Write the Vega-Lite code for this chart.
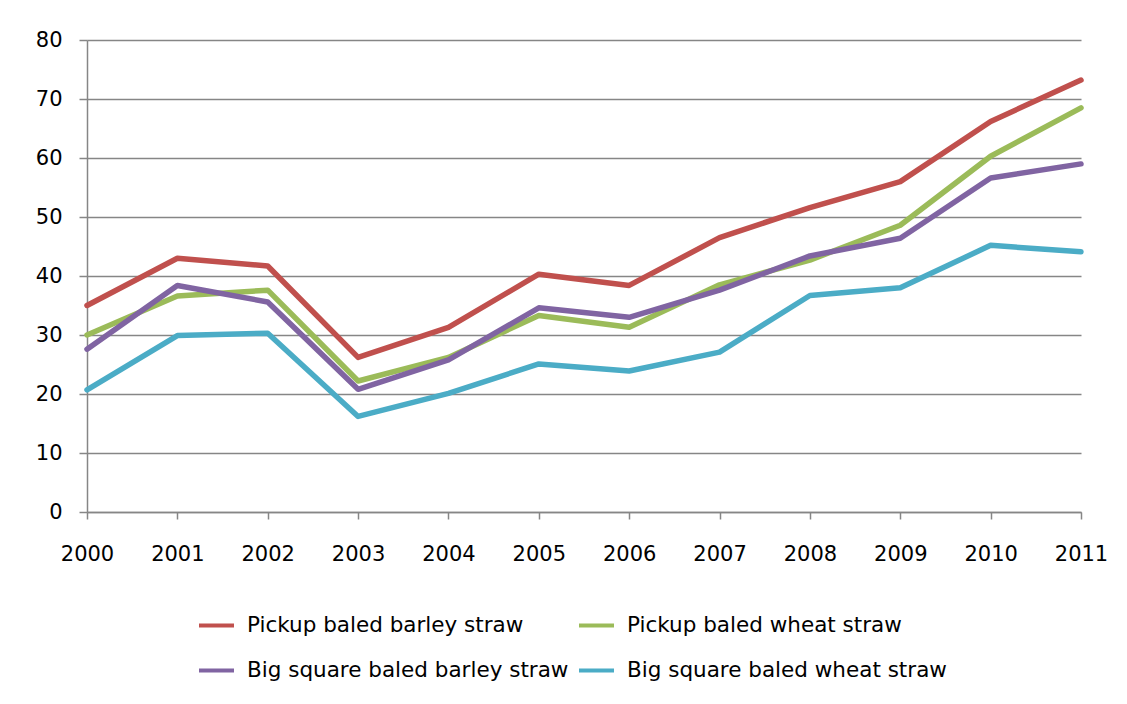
{
  "$schema": "https://vega.github.io/schema/vega-lite/v6.json",
  "width": 994,
  "height": 472,
  "autosize": {"type": "none"},
  "padding": {"left": 87, "top": 40, "right": 46, "bottom": 192},
  "background": "white",
  "config": {
    "view": {"stroke": null},
    "font": "DejaVu Sans",
    "axis": {
      "labelFont": "DejaVu Sans",
      "labelFontSize": 21,
      "labelColor": "#000000",
      "domainColor": "#868686",
      "domainWidth": 1.5,
      "tickColor": "#868686",
      "tickWidth": 1.5,
      "gridColor": "#868686",
      "gridWidth": 1.3,
      "gridOpacity": 1,
      "title": null
    }
  },
  "data": {
    "values": [
      {"year": "2000", "series": "Pickup baled barley straw", "value": 35.0},
      {"year": "2001", "series": "Pickup baled barley straw", "value": 43.0},
      {"year": "2002", "series": "Pickup baled barley straw", "value": 41.7},
      {"year": "2003", "series": "Pickup baled barley straw", "value": 26.2},
      {"year": "2004", "series": "Pickup baled barley straw", "value": 31.3},
      {"year": "2005", "series": "Pickup baled barley straw", "value": 40.3},
      {"year": "2006", "series": "Pickup baled barley straw", "value": 38.4},
      {"year": "2007", "series": "Pickup baled barley straw", "value": 46.5},
      {"year": "2008", "series": "Pickup baled barley straw", "value": 51.6},
      {"year": "2009", "series": "Pickup baled barley straw", "value": 56.0},
      {"year": "2010", "series": "Pickup baled barley straw", "value": 66.2},
      {"year": "2011", "series": "Pickup baled barley straw", "value": 73.2},
      {"year": "2000", "series": "Pickup baled wheat straw", "value": 30.0},
      {"year": "2001", "series": "Pickup baled wheat straw", "value": 36.6},
      {"year": "2002", "series": "Pickup baled wheat straw", "value": 37.6},
      {"year": "2003", "series": "Pickup baled wheat straw", "value": 22.2},
      {"year": "2004", "series": "Pickup baled wheat straw", "value": 26.2},
      {"year": "2005", "series": "Pickup baled wheat straw", "value": 33.3},
      {"year": "2006", "series": "Pickup baled wheat straw", "value": 31.3},
      {"year": "2007", "series": "Pickup baled wheat straw", "value": 38.5},
      {"year": "2008", "series": "Pickup baled wheat straw", "value": 42.7},
      {"year": "2009", "series": "Pickup baled wheat straw", "value": 48.6},
      {"year": "2010", "series": "Pickup baled wheat straw", "value": 60.3},
      {"year": "2011", "series": "Pickup baled wheat straw", "value": 68.5},
      {"year": "2000", "series": "Big square baled barley straw", "value": 27.6},
      {"year": "2001", "series": "Big square baled barley straw", "value": 38.4},
      {"year": "2002", "series": "Big square baled barley straw", "value": 35.6},
      {"year": "2003", "series": "Big square baled barley straw", "value": 20.8},
      {"year": "2004", "series": "Big square baled barley straw", "value": 25.8},
      {"year": "2005", "series": "Big square baled barley straw", "value": 34.6},
      {"year": "2006", "series": "Big square baled barley straw", "value": 33.0},
      {"year": "2007", "series": "Big square baled barley straw", "value": 37.6},
      {"year": "2008", "series": "Big square baled barley straw", "value": 43.4},
      {"year": "2009", "series": "Big square baled barley straw", "value": 46.4},
      {"year": "2010", "series": "Big square baled barley straw", "value": 56.6},
      {"year": "2011", "series": "Big square baled barley straw", "value": 59.0},
      {"year": "2000", "series": "Big square baled wheat straw", "value": 20.7},
      {"year": "2001", "series": "Big square baled wheat straw", "value": 29.9},
      {"year": "2002", "series": "Big square baled wheat straw", "value": 30.3},
      {"year": "2003", "series": "Big square baled wheat straw", "value": 16.2},
      {"year": "2004", "series": "Big square baled wheat straw", "value": 20.1},
      {"year": "2005", "series": "Big square baled wheat straw", "value": 25.1},
      {"year": "2006", "series": "Big square baled wheat straw", "value": 23.9},
      {"year": "2007", "series": "Big square baled wheat straw", "value": 27.1},
      {"year": "2008", "series": "Big square baled wheat straw", "value": 36.7},
      {"year": "2009", "series": "Big square baled wheat straw", "value": 38.0},
      {"year": "2010", "series": "Big square baled wheat straw", "value": 45.2},
      {"year": "2011", "series": "Big square baled wheat straw", "value": 44.1}
    ]
  },
  "mark": {"type": "line", "strokeWidth": 5.5, "strokeJoin": "round", "strokeCap": "round"},
  "encoding": {
    "x": {
      "field": "year",
      "type": "ordinal",
      "scale": {"type": "point", "padding": 0},
      "axis": {"labelAngle": 0, "tickSize": 7, "labelPadding": 24, "grid": false, "labelFontSize": 21}
    },
    "y": {
      "field": "value",
      "type": "quantitative",
      "scale": {"domain": [0, 80], "nice": false},
      "axis": {"values": [0, 10, 20, 30, 40, 50, 60, 70, 80], "tickSize": 8, "labelPadding": 17, "grid": true, "labelFontSize": 21}
    },
    "color": {
      "field": "series",
      "type": "nominal",
      "scale": {
        "domain": ["Pickup baled barley straw", "Pickup baled wheat straw", "Big square baled barley straw", "Big square baled wheat straw"],
        "range": ["#C0504D", "#9BBB59", "#8064A2", "#4BACC6"]
      },
      "legend": {
        "title": null,
        "orient": "none",
        "direction": "horizontal",
        "legendX": 110,
        "legendY": 566,
        "columns": 2,
        "columnPadding": 2,
        "rowPadding": 15,
        "padding": 0,
        "symbolType": "stroke",
        "symbolSize": 1225,
        "symbolStrokeWidth": 4,
        "labelOffset": 11,
        "labelFont": "DejaVu Sans",
        "labelFontSize": 21.5,
        "labelColor": "#000000",
        "labelLimit": 500
      }
    }
  }
}
